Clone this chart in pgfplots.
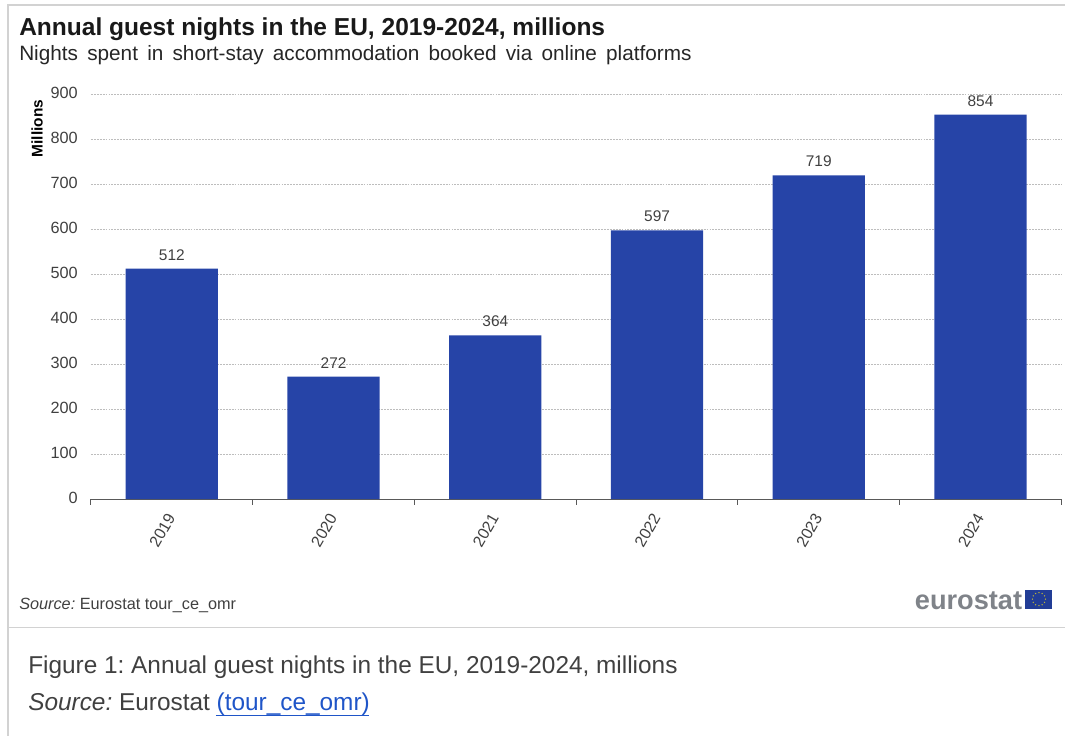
\documentclass[border=0pt]{standalone}
\usepackage{fontspec}
\setmainfont{Liberation Sans}
\usepackage{pgfplots}
\pgfplotsset{compat=1.18}
\frenchspacing
\definecolor{barblue}{HTML}{2644A7}
\definecolor{inktext}{HTML}{404040}
\definecolor{axisgrey}{HTML}{595959}
\definecolor{framegrey}{HTML}{D2D2D2}
\definecolor{linkblue}{HTML}{1F55C8}
\definecolor{logogrey}{HTML}{7F8389}
\newcommand{\fs}[1]{\fontsize{#1}{#1}\selectfont}
\begin{document}
\begin{tikzpicture}[x=0.75pt,y=0.75pt]
  \path (0,0) rectangle (1066,736);
  % page furniture
  \draw[framegrey,line width=0.9pt] (8,0) -- (8,731) -- (1066,731);
  \draw[framegrey,line width=0.9pt] (8,108) -- (1066,108);
  % chart
  \begin{axis}[
    at={(68.25pt,177.4pt)}, anchor=south west,
    scale only axis, width=728.25pt, height=304.1pt,
    xmin=-0.5, xmax=5.5, ymin=0, ymax=900,
    axis y line=none,
    axis x line=bottom,
    axis line style={draw=axisgrey,line width=0.7pt,-},
    xtick={0,1,2,3,4,5},
    xticklabels={2019,2020,2021,2022,2023,2024},
    minor xtick={-0.5,0.5,1.5,2.5,3.5,4.5,5.5},
    major tick length=0pt, minor tick length=4pt,
    tick align=outside,
    minor tick style={draw=axisgrey,line width=0.7pt},
    x tick label style={rotate=60,anchor=east,font=\fs{12pt},text=inktext,xshift=-7pt,yshift=-5.5pt},
    /pgf/number format/assume math mode=true,
    bar width=0.57,
    /pgf/bar shift=0pt,
    nodes near coords,
    point meta=y,
    every node near coord/.append style={font=\fs{11.6pt},text=inktext,yshift=2.7pt},
    clip=false,
  ]
    % dashed horizontal gridlines, drawn behind the bars
    \pgfplotsinvokeforeach{100,200,300,400,500,600,700,800,900}{
      \addplot[forget plot,no markers,nodes near coords={},draw=black!26,line width=0.45pt,dash pattern=on 1.4pt off 0.8pt]
        coordinates {(-0.5,#1) (5.5,#1)};
    }
    \addplot[ybar,fill=barblue,draw=none]
      coordinates {(0,512) (1,272) (2,364) (3,597) (4,719) (5,854)};
  \end{axis}
  % value axis labels and title
  \foreach \v in {0,100,...,900}{
    \node[anchor=east,font=\fs{12.2pt},text=inktext,inner sep=0pt] at (78,{238+\v*0.45056}) {\v};
  }
  \node[rotate=90,font=\bfseries\fs{11.6pt},text=black,inner sep=0pt] at (37,607.5) {Millions};
  \node[anchor=base west,font=\bfseries\fs{18.4pt},text=black!90,inner sep=0pt] at (19,700) {Annual guest nights in the EU, 2019-2024, millions};
  \node[anchor=base west,font=\fs{15.57pt},text=black!85,inner sep=0pt] at (19,675) {Nights\, spent\, in\, short-stay\, accommodation\, booked\, via\, online\, platforms};
  \node[anchor=base west,font=\fs{12.2pt},text=inktext,inner sep=0pt] at (19,126) {\textit{Source:} Eurostat tour\_ce\_omr};
  % logo
  \node[anchor=base east,font=\bfseries\fs{20.4pt},text=logogrey,inner sep=0pt] at (1023,126) {eurostat};
  \fill[barblue!90!black] (1026,127) rectangle (1053,146);
  \foreach \a in {0,30,...,330}{
    \fill[yellow!70!black] ({1039.5+6.5*cos(\a)},{136.5+6.5*sin(\a)}) circle (0.75);
  }
  % caption under the chart
  \node[anchor=base west,font=\fs{18.3pt},text=inktext,inner sep=0pt] at (28,62) {Figure 1: Annual guest nights in the EU, 2019-2024, millions};
  \node[anchor=base west,font=\fs{18.3pt},text=inktext,inner sep=0pt] at (28,25) {\textit{Source:} Eurostat \textcolor{linkblue}{(tour\_ce\_omr)}};
  \draw[linkblue,line width=0.7pt] (216,20.5) -- (369,20.5);
\end{tikzpicture}
\end{document}
